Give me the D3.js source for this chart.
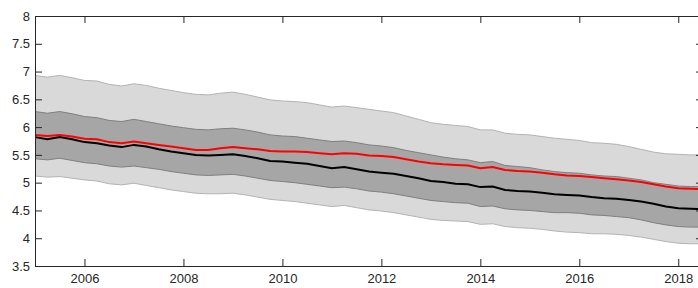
<!DOCTYPE html>
<html>
<head>
<meta charset="utf-8">
<script src="https://cdn.jsdelivr.net/npm/d3@7"></script>
<style>
    body { margin: 0; background: #fff; }
    svg { display: block; }
    .tick text { font-family: "Liberation Sans", Arial, sans-serif; font-size: 13px; fill: #262626; }
</style>
</head>
<body>
<div class="chart"></div>
<script>
// quarterly dates, 2005Q1 .. 2018Q3
var years = d3.range(0, 55).map(function(i){ return 2005 + i * 0.25; });

var median = [5.82, 5.78, 5.82, 5.78, 5.73, 5.71, 5.67, 5.64, 5.68, 5.65,
              5.60, 5.56, 5.53, 5.50, 5.49, 5.50, 5.51, 5.48, 5.44, 5.39,
              5.38, 5.36, 5.34, 5.30, 5.26, 5.28, 5.24, 5.20, 5.18, 5.16,
              5.12, 5.08, 5.03, 5.01, 4.98, 4.97, 4.92, 4.93, 4.87, 4.85,
              4.84, 4.82, 4.79, 4.78, 4.77, 4.74, 4.72, 4.71, 4.69, 4.66,
              4.62, 4.57, 4.54, 4.53, 4.52];

var redLine = [5.86, 5.84, 5.86, 5.83, 5.79, 5.78, 5.73, 5.71, 5.74, 5.71,
               5.68, 5.65, 5.62, 5.59, 5.59, 5.62, 5.64, 5.62, 5.60, 5.57,
               5.56, 5.56, 5.55, 5.53, 5.51, 5.53, 5.52, 5.49, 5.48, 5.46,
               5.42, 5.38, 5.35, 5.33, 5.32, 5.31, 5.26, 5.28, 5.23, 5.21,
               5.20, 5.18, 5.15, 5.13, 5.12, 5.10, 5.08, 5.06, 5.04, 5.01,
               4.97, 4.93, 4.90, 4.89, 4.88];

var outerHigh = [6.93, 6.90, 6.93, 6.89, 6.84, 6.83, 6.77, 6.74, 6.78, 6.75,
                 6.70, 6.66, 6.62, 6.59, 6.58, 6.61, 6.63, 6.59, 6.54, 6.49,
                 6.47, 6.46, 6.44, 6.40, 6.36, 6.38, 6.35, 6.32, 6.29, 6.26,
                 6.20, 6.14, 6.08, 6.05, 6.03, 6.01, 5.95, 5.95, 5.89, 5.87,
                 5.86, 5.83, 5.80, 5.78, 5.76, 5.72, 5.71, 5.69, 5.65, 5.60,
                 5.55, 5.52, 5.51, 5.50, 5.50];

var innerHigh = [6.28, 6.25, 6.28, 6.24, 6.19, 6.17, 6.12, 6.10, 6.14, 6.10,
                 6.06, 6.02, 5.99, 5.96, 5.95, 5.97, 5.98, 5.95, 5.91, 5.86,
                 5.84, 5.83, 5.80, 5.77, 5.74, 5.75, 5.72, 5.68, 5.66, 5.63,
                 5.58, 5.54, 5.50, 5.46, 5.43, 5.41, 5.36, 5.38, 5.31, 5.29,
                 5.27, 5.23, 5.20, 5.18, 5.17, 5.14, 5.12, 5.11, 5.08, 5.05,
                 5.00, 4.97, 4.94, 4.93, 4.93];

var innerLow = [5.43, 5.41, 5.44, 5.40, 5.36, 5.34, 5.30, 5.28, 5.30, 5.27,
                5.24, 5.20, 5.17, 5.14, 5.13, 5.14, 5.15, 5.12, 5.08, 5.04,
                5.02, 5.00, 4.97, 4.94, 4.91, 4.92, 4.89, 4.85, 4.83, 4.80,
                4.76, 4.72, 4.68, 4.66, 4.64, 4.63, 4.57, 4.58, 4.53, 4.51,
                4.50, 4.48, 4.46, 4.46, 4.45, 4.42, 4.41, 4.39, 4.37, 4.33,
                4.28, 4.24, 4.21, 4.20, 4.20];

var outerLow = [5.12, 5.10, 5.11, 5.08, 5.05, 5.03, 4.98, 4.96, 4.99, 4.95,
                4.91, 4.87, 4.84, 4.81, 4.80, 4.80, 4.81, 4.78, 4.74, 4.70,
                4.68, 4.66, 4.63, 4.60, 4.57, 4.59, 4.55, 4.51, 4.49, 4.46,
                4.42, 4.38, 4.34, 4.32, 4.31, 4.30, 4.25, 4.26, 4.21, 4.19,
                4.18, 4.16, 4.13, 4.11, 4.10, 4.08, 4.08, 4.07, 4.05, 4.02,
                3.98, 3.94, 3.91, 3.90, 3.90];

var xTicks = [2006, 2008, 2010, 2012, 2014, 2016, 2018];
var yTicks = [3.5, 4, 4.5, 5, 5.5, 6, 6.5, 7, 7.5, 8];

window.onload = function() {
    var svgWidth = 698, svgHeight = 288;
    var left = 35, right = 703, top = 16, bottom = 266;
    var axisColor = '#262626';

    var svg = d3.select('.chart').append('svg')
        .attr('width', svgWidth)
        .attr('height', svgHeight);

    var x = d3.scaleLinear().domain([2005, 2018.5]).range([left, right]);
    var y = d3.scaleLinear().domain([3.5, 8]).range([bottom, top]);

    var area = function(lo, hi) {
        return d3.area()
            .x(function(d, i){ return x(years[i]); })
            .y0(function(d, i){ return y(lo[i]); })
            .y1(function(d, i){ return y(hi[i]); })(years);
    };
    var line = function(vals) {
        return d3.line()
            .x(function(d, i){ return x(years[i]); })
            .y(function(d){ return y(d); })(vals);
    };

    svg.append('path').attr('d', area(outerLow, outerHigh)).attr('fill', '#d9d9d9');
    svg.append('path').attr('d', area(innerLow, innerHigh)).attr('fill', '#a6a6a6');

    // band edges
    [[outerHigh, '#b3b3b3'], [outerLow, '#b3b3b3'], [innerHigh, '#7f7f7f'], [innerLow, '#7f7f7f']]
        .forEach(function(e){
            svg.append('path').attr('d', line(e[0]))
                .attr('fill', 'none').attr('stroke', e[1]).attr('stroke-width', 1);
        });

    svg.append('path').attr('d', line(median))
        .attr('fill', 'none').attr('stroke', '#000').attr('stroke-width', 2);
    svg.append('path').attr('d', line(redLine))
        .attr('fill', 'none').attr('stroke', '#ff0000').attr('stroke-width', 2);

    // axes, ticks pointing inward
    var styleAxis = function(g) {
        g.select('.domain').attr('stroke', axisColor);
        g.selectAll('.tick line').attr('stroke', axisColor);
    };

    svg.append('g').attr('transform', 'translate(0,' + bottom + ')')
        .call(d3.axisBottom(x).tickValues(xTicks).tickFormat(d3.format('d'))
            .tickSizeInner(-7).tickSizeOuter(0).tickPadding(8))
        .call(styleAxis);

    svg.append('g').attr('transform', 'translate(0,' + top + ')')
        .call(d3.axisTop(x).tickValues(xTicks).tickFormat('')
            .tickSizeInner(-7).tickSizeOuter(0))
        .call(styleAxis);

    svg.append('g').attr('transform', 'translate(' + left + ',0)')
        .call(d3.axisLeft(y).tickValues(yTicks).tickFormat(d3.format('~g'))
            .tickSizeInner(-7).tickSizeOuter(0).tickPadding(5))
        .call(styleAxis);

    svg.append('g').attr('transform', 'translate(' + right + ',0)')
        .call(d3.axisRight(y).tickValues(yTicks).tickFormat('')
            .tickSizeInner(-7).tickSizeOuter(0))
        .call(styleAxis);

    svg.selectAll('.tick text').attr('fill', axisColor);
};
</script>
</body>
</html>
